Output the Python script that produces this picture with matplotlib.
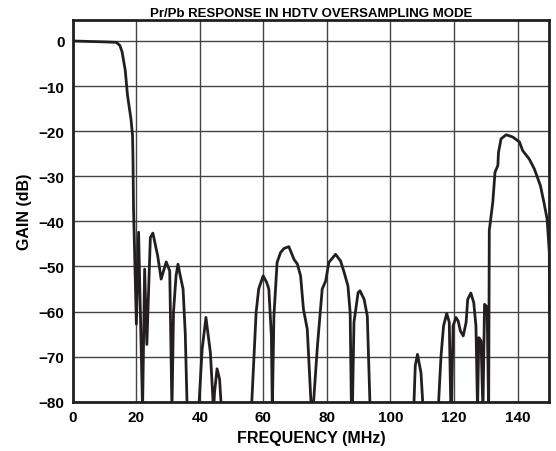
import matplotlib
matplotlib.use('Agg')
import matplotlib.pyplot as plt

plt.rcParams['font.family'] = ['Liberation Sans', 'DejaVu Sans']
plt.rcParams['font.weight'] = 'bold'

# response (MHz, dB); values below -80 are clipped by the axes
freq = [0, 5, 10, 13.7, 14.8, 15.5, 16.5, 17.2, 18.3, 18.8, 18.95, 19.1,
        20.0, 20.7, 21.95, 22.6, 23.3, 24.4, 25.2, 26.7, 27.8, 29.4, 30.5,
        31.2, 31.7, 32.5, 33.1, 33.8, 34.7, 35.4, 36.0,
        39.6, 40.7, 41.9, 43.3, 44.3, 44.6, 45.4, 46.2, 46.8,
        56.2, 57.7, 58.5, 59.9, 61.0, 61.7, 62.5, 62.8,
        63.3, 64.3, 65.4, 66.5, 68.0, 69.6, 70.7, 71.7, 72.6, 73.8, 75.1,
        75.6, 77.0, 78.5, 79.6, 80.6, 82.7, 84.3, 85.4, 86.6, 87.3, 87.7,
        88.0, 88.5, 89.8, 90.4, 91.7, 92.7, 93.6,
        107.3, 107.8, 108.5, 109.6, 110.3,
        115.0, 115.9, 116.7, 117.7, 118.5, 119.0,
        119.2, 119.7, 120.6, 121.3, 122.0, 122.9, 123.8, 124.3, 125.3, 126.2, 126.9, 127.4,
        127.8, 128.5, 129.1, 129.6, 130.4, 130.9,
        131.1, 132.2, 132.9, 133.8, 134.0, 134.8, 136.4, 138.5, 140.6, 141.6,
        143.7, 145.3, 147.2, 148.3, 149.3, 150.0, 150.05]
gain = [0, -0.1, -0.2, -0.3, -1.0, -2.4, -6.5, -12, -17.3, -21, -27, -37,
        -62.8, -42.4, -82, -50.6, -67.3, -43.6, -42.6, -47.6, -52.8, -49, -51,
        -82, -60, -52, -49.5, -52, -55, -65, -82,
        -82, -68.4, -61.3, -69.1, -82, -78, -72.7, -75, -82,
        -82, -60.2, -55, -52.1, -53.5, -55, -65.4, -82,
        -61, -49.1, -46.9, -46, -45.6, -48.4, -49.5, -52.1, -59.5, -63.9, -82,
        -82, -67.6, -55, -53.2, -49.1, -47.3, -48.8, -51.3, -54.3, -60.2, -82,
        -82, -62.4, -55.8, -55.4, -57.3, -61, -82,
        -82, -72, -69.5, -73.6, -82,
        -82, -69.9, -63.2, -60.4, -62.4, -82,
        -82, -63.2, -61.3, -62.1, -64.3, -65.4, -62.4, -57.3, -55.9, -58, -63.2, -82,
        -65.8, -66.5, -82, -58.4, -59, -82,
        -42, -35.8, -29.1, -27.6, -24.7, -21.7, -20.8, -21.3, -22.4, -24.3,
        -26.2, -28.4, -32.1, -35.8, -39.5, -46.9, -60.2]

xticks = [0, 20, 40, 60, 80, 100, 120, 140]
yticks = [0, -10, -20, -30, -40, -50, -60, -70, -80]

fig = plt.figure(figsize=(5.56, 4.52), dpi=100)
ax = fig.add_axes([0.131, 0.109, 0.857, 0.845])

ax.plot(freq, gain, color='#231f20', lw=2.0, solid_joinstyle='round')

ax.set_xlim(0, 150)
ax.set_ylim(-80, 4.7)
ax.set_xticks(xticks)
ax.set_yticks(yticks)
ax.set_yticklabels([str(v).replace('-', '\u2212') for v in yticks])
ax.tick_params(length=0, labelsize=11, pad=6)
ax.grid(True, color='#444444', lw=1.0)
ax.set_axisbelow(True)
for s in ax.spines.values():
    s.set_linewidth(2)
    s.set_color('#231f20')

ax.set_xlabel('FREQUENCY (MHz)', fontsize=11.5, fontweight='bold', labelpad=4)
ax.set_ylabel('GAIN (dB)', fontsize=11.5, fontweight='bold', labelpad=5)
ax.set_title('Pr/Pb RESPONSE IN HDTV OVERSAMPLING MODE', fontsize=9.5,
             fontweight='bold', pad=3)

fig.savefig('out.png', dpi=100)
